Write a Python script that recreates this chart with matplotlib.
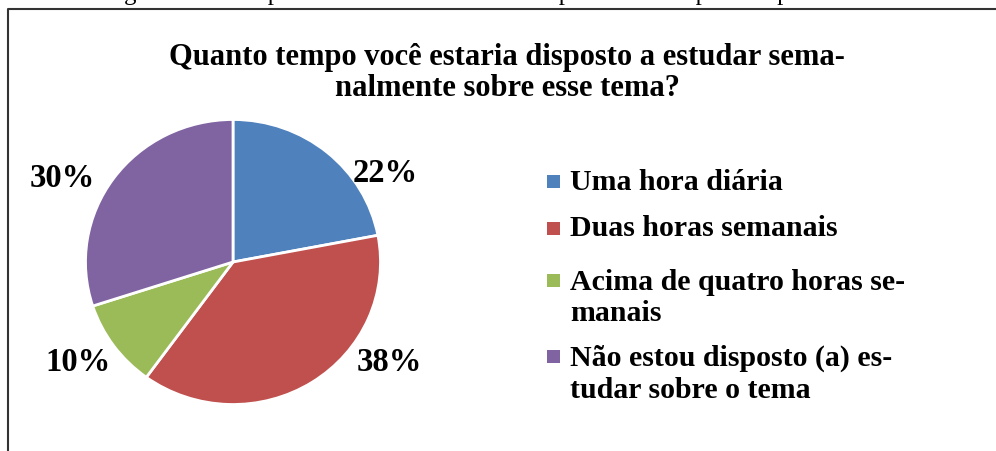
import matplotlib
matplotlib.use("Agg")
import matplotlib.pyplot as plt
from matplotlib.patches import Rectangle
from matplotlib.lines import Line2D
import numpy as np

categories = ["Uma hora diária", "Duas horas semanais",
              "Acima de quatro horas se-\nmanais",
              "Não estou disposto (a) es-\ntudar sobre o tema"]
values = [22, 38, 10, 30]
colors = ["#4F81BD", "#C0504D", "#9BBB59", "#8064A2"]
pct_labels = ["22%", "38%", "10%", "30%"]

title = "Quanto tempo você estaria disposto a estudar sema-\nnalmente sobre esse tema?"
caption = "Figura 11 – Tempo de estudo semanal dos respondentes disponível para o tema"

W, H = 996, 452
fig = plt.figure(figsize=(W / 100, H / 100), dpi=100)
fig.patch.set_facecolor("white")
font = "Liberation Serif"

def fx(px):
    return px / W

def fy(py):
    return 1 - py / H

# Frame
fig.add_artist(Line2D([fx(8), fx(8), fx(1000)], [fy(460), fy(10), fy(10)],
                      color="#333333", lw=1.5, transform=fig.transFigure))

# Caption (cut off at top, as in the source page)
fig.text(0.5, fy(-6), caption, ha="center", va="center", fontsize=18,
         family=font, color="black")

# Pie (slightly wider than tall, as in the reference)
cx, cy, RX, RY = 233, 263, 147.5, 142.5
ax = fig.add_axes([fx(cx - RX), fy(cy + RY), (2 * RX) / W, (2 * RY) / H])
wedges, _ = ax.pie(values, colors=colors, startangle=90, counterclock=False,
                   radius=1.0, wedgeprops=dict(edgecolor="white", linewidth=2))
ax.set_xlim(-1, 1)
ax.set_ylim(-1, 1)
ax.set_aspect("auto")
ax.axis("off")

label_pos = [(1.03, 0.63), (1.06, -0.70), (-1.05, -0.70), (-1.16, 0.59)]
for lab, (x, y) in zip(pct_labels, label_pos):
    ax.text(x, y, lab, ha="center", va="center",
            fontsize=23.5, fontweight="bold", family=font, clip_on=False)

# Title
fig.text(fx(507), fy(73), title, ha="center", va="center", fontsize=22,
         fontweight="bold", family=font, linespacing=1.12)

# Legend
leg_y = [182, 229, 281, 357]
for c, lab, y in zip(colors, categories, leg_y):
    s = 13
    fig.add_artist(Rectangle((fx(547), fy(y + s / 2)), s / W, s / H,
                             facecolor=c, edgecolor="none",
                             transform=fig.transFigure))
    if "\n" in lab:
        fig.text(fx(570), fy(y - 12), lab, ha="left", va="top",
                 fontsize=21.5, fontweight="bold", family=font, linespacing=1.2)
    else:
        fig.text(fx(570), fy(y), lab, ha="left", va="center",
                 fontsize=21.5, fontweight="bold", family=font)

fig.savefig("out.png", dpi=100, facecolor="white")
